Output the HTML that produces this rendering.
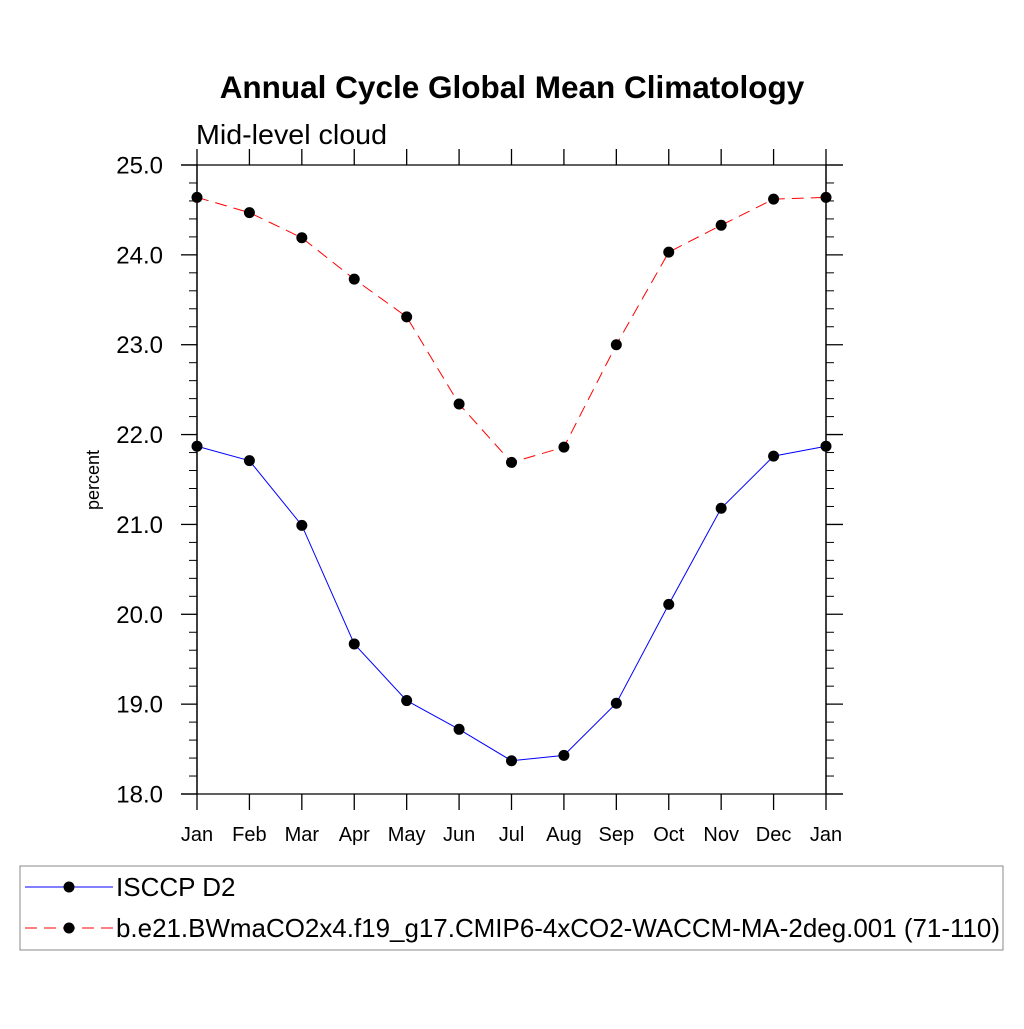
<!DOCTYPE html>
<html><head><meta charset="utf-8"><style>
body{margin:0;background:#fff;}
svg text{font-family:"Liberation Sans",sans-serif;}
</style></head><body>
<svg id="chart" width="1024" height="1024" xmlns="http://www.w3.org/2000/svg">
<text x="512" y="98" text-anchor="middle" font-size="31.5" font-weight="bold">Annual Cycle Global Mean Climatology</text>
<text x="196" y="144" font-size="28" textLength="191" lengthAdjust="spacingAndGlyphs">Mid-level cloud</text>
<text transform="translate(99,480) rotate(-90)" text-anchor="middle" font-size="18">percent</text>
<g id="axes"></g>
<g id="series"></g>
<rect x="20" y="866" width="983" height="84" fill="none" stroke="#888" stroke-width="1"/>
<g>
<line x1="25" y1="887" x2="113" y2="887" stroke="#00f" stroke-width="1"/>
<circle cx="69" cy="887" r="5.5" fill="#000"/>
<text x="116" y="896" font-size="26">ISCCP D2</text>
</g>
<g>
<line x1="25" y1="928" x2="113" y2="928" stroke="#f00" stroke-width="1" stroke-dasharray="12,7"/>
<circle cx="69" cy="928" r="5.5" fill="#000"/>
<text x="116" y="937" font-size="26" textLength="884" lengthAdjust="spacingAndGlyphs">b.e21.BWmaCO2x4.f19_g17.CMIP6-4xCO2-WACCM-MA-2deg.001 (71-110)</text>
</g>
</svg>
<script>
const months=["Jan","Feb","Mar","Apr","May","Jun","Jul","Aug","Sep","Oct","Nov","Dec","Jan"];
const isccp=[21.87,21.71,20.99,19.67,19.04,18.72,18.37,18.43,19.01,20.11,21.18,21.76,21.87];
const model=[24.64,24.47,24.19,23.73,23.31,22.34,21.69,21.86,23.0,24.03,24.33,24.62,24.64];
const yTicks=[18,19,20,21,22,23,24,25];
const NS="http://www.w3.org/2000/svg";
const X0=197,X1=826,Y0=794,Y1=165,YMIN=18,YMAX=25;
function xs(i){return X0+(X1-X0)*i/(months.length-1);}
function ys(v){return Y0-(v-YMIN)/(YMAX-YMIN)*(Y0-Y1);}
function mk(tag,attrs,parent){const e=document.createElementNS(NS,tag);for(const k in attrs)e.setAttribute(k,attrs[k]);parent.appendChild(e);return e;}
const ax=document.getElementById('axes');
let l;
l=mk('line',{x1:X0,y1:Y1,x2:X0,y2:Y0,stroke:'#000','stroke-width':1.5},ax);


l=mk('line',{x1:X1,y1:Y1,x2:X1,y2:Y0,stroke:'#000','stroke-width':1.5},ax);


yTicks.forEach(v=>{
  const y=ys(v);
  mk('line',{x1:181,y1:y,x2:X0,y2:y,stroke:'#000','stroke-width':1.3},ax);
  mk('line',{x1:X1,y1:y,x2:843,y2:y,stroke:'#000','stroke-width':1.3},ax);
  const t=mk('text',{x:163,y:y+8.5,'text-anchor':'end','font-size':24},ax);
  t.textContent=v.toFixed(1);
  
  
});
for(let v=YMIN;v<YMAX-0.01;v+=0.2){
  if(Math.abs(v-Math.round(v))<0.01)continue;
  const y=ys(v);
  mk('line',{x1:189,y1:y,x2:X0,y2:y,stroke:'#000','stroke-width':1},ax);
  mk('line',{x1:X1,y1:y,x2:834,y2:y,stroke:'#000','stroke-width':1},ax);
}
mk('line',{x1:181,y1:Y1,x2:843,y2:Y1,stroke:'#000','stroke-width':1.3},ax);
mk('line',{x1:181,y1:Y0,x2:843,y2:Y0,stroke:'#000','stroke-width':1.3},ax);
months.forEach((m,i)=>{
  const x=xs(i);
  mk('line',{x1:x,y1:Y0,x2:x,y2:810,stroke:'#000','stroke-width':1.3},ax);
  mk('line',{x1:x,y1:Y1,x2:x,y2:149,stroke:'#000','stroke-width':1.3},ax);
  const t=mk('text',{x:x,y:841,'text-anchor':'middle','font-size':20},ax);
  t.textContent=m;
  
  
});
const sg=document.getElementById('series');
function draw(vals,color,dash,name){
  const p=mk('polyline',{points:vals.map((v,i)=>xs(i)+','+ys(v)).join(' '),fill:'none',stroke:color,'stroke-width':1,'stroke-dasharray':dash},sg);
  
  
  vals.forEach((v,i)=>{
    const c=mk('circle',{cx:xs(i),cy:ys(v),r:5.5,fill:'#000'},sg);
    
    
  });
}
draw(model,'#f00','12,7','model');
draw(isccp,'#00f','none','isccp');
</script>
</body></html>
